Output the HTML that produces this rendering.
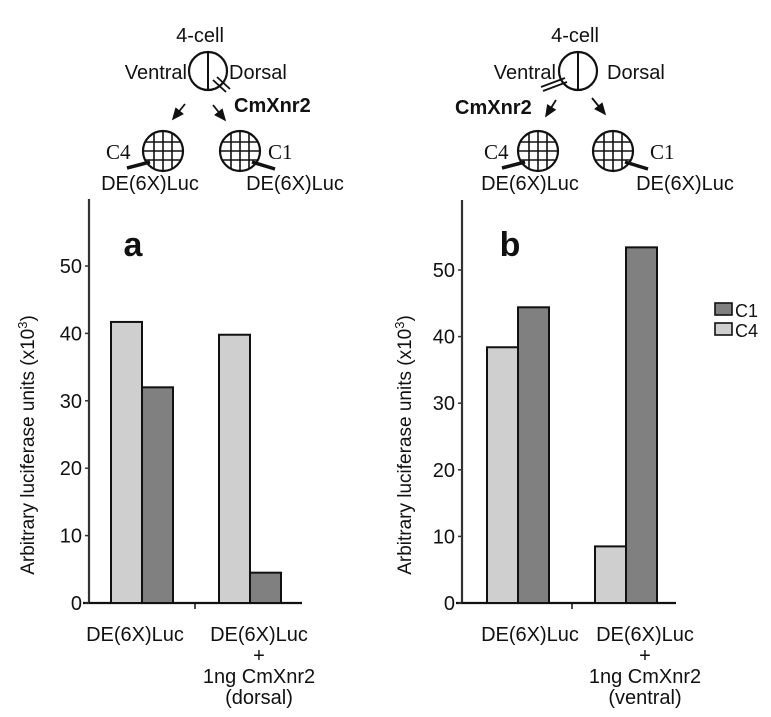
<!DOCTYPE html>
<html><head><meta charset="utf-8"><style>
body{margin:0;background:#fff;}
svg{display:block;font-family:"Liberation Sans",sans-serif;}
</style></head><body>
<svg id="fig" width="771" height="717" viewBox="0 0 771 717">
<defs>
<marker id="ah" markerWidth="8" markerHeight="8" refX="6" refY="4" orient="auto"><path d="M0,1 L7,4 L0,7 Z" fill="#111"/></marker>
<g id="globe">
<circle r="20" fill="#fff" stroke="#111" stroke-width="2.2"/>
<line x1="-20" y1="0" x2="20" y2="0" stroke="#111" stroke-width="1.6"/>
<line x1="-18" y1="-9" x2="18" y2="-9" stroke="#111" stroke-width="1.6"/>
<line x1="-18" y1="9" x2="18" y2="9" stroke="#111" stroke-width="1.6"/>
<line x1="0" y1="-20" x2="0" y2="20" stroke="#111" stroke-width="1.6"/>
<line x1="-9" y1="-18" x2="-9" y2="18" stroke="#111" stroke-width="1.6"/>
<line x1="9" y1="-18" x2="9" y2="18" stroke="#111" stroke-width="1.6"/>
</g>
</defs>

<!-- left diagram -->
<g font-size="20" fill="#111">
<text x="200" y="42" text-anchor="middle">4-cell</text>
<circle cx="208" cy="71" r="19" fill="#fff" stroke="#111" stroke-width="2.2"/>
<line x1="208" y1="52" x2="208" y2="90" stroke="#111" stroke-width="2"/>
<text x="187" y="79" text-anchor="end">Ventral</text>
<text x="229" y="79">Dorsal</text>
<line x1="213" y1="80" x2="226" y2="92" stroke="#111" stroke-width="1.8"/>
<line x1="217" y1="77" x2="230" y2="89" stroke="#111" stroke-width="1.8"/>
<text x="234" y="112" font-weight="bold">CmXnr2</text>
<line x1="185" y1="104" x2="173" y2="119" stroke="#111" stroke-width="1.8" marker-end="url(#ah)"/>
<line x1="213" y1="105" x2="225" y2="120" stroke="#111" stroke-width="1.8" marker-end="url(#ah)"/>
<use href="#globe" x="163" y="151"/>
<use href="#globe" x="240" y="151"/>
<line x1="150" y1="162" x2="127" y2="168" stroke="#111" stroke-width="3.5"/>
<line x1="252" y1="162" x2="275" y2="169" stroke="#111" stroke-width="3.5"/>
<text x="106" y="159" font-family="Liberation Serif,serif" font-size="21">C4</text>
<text x="268" y="159" font-family="Liberation Serif,serif" font-size="21">C1</text>
<text x="150" y="190" text-anchor="middle">DE(6X)Luc</text>
<text x="295" y="190" text-anchor="middle">DE(6X)Luc</text>
</g>

<!-- right diagram -->
<g font-size="20" fill="#111">
<text x="575" y="42" text-anchor="middle">4-cell</text>
<circle cx="578" cy="71" r="19" fill="#fff" stroke="#111" stroke-width="2.2"/>
<line x1="578" y1="52" x2="578" y2="90" stroke="#111" stroke-width="2"/>
<text x="556" y="79" text-anchor="end">Ventral</text>
<text x="607" y="79">Dorsal</text>
<line x1="565" y1="78" x2="541" y2="87" stroke="#111" stroke-width="1.8"/>
<line x1="567" y1="82" x2="543" y2="91" stroke="#111" stroke-width="1.8"/>
<text x="455" y="114" font-weight="bold">CmXnr2</text>
<line x1="556" y1="100" x2="546" y2="116" stroke="#111" stroke-width="1.8" marker-end="url(#ah)"/>
<line x1="592" y1="98" x2="605" y2="114" stroke="#111" stroke-width="1.8" marker-end="url(#ah)"/>
<use href="#globe" x="538" y="151"/>
<use href="#globe" x="613" y="151"/>
<line x1="525" y1="162" x2="502" y2="168" stroke="#111" stroke-width="3.5"/>
<line x1="625" y1="162" x2="648" y2="169" stroke="#111" stroke-width="3.5"/>
<text x="484" y="159" font-family="Liberation Serif,serif" font-size="21">C4</text>
<text x="650" y="159" font-family="Liberation Serif,serif" font-size="21">C1</text>
<text x="530" y="190" text-anchor="middle">DE(6X)Luc</text>
<text x="685" y="190" text-anchor="middle">DE(6X)Luc</text>
</g>

<!-- legend -->
<g font-size="18" fill="#111">
<rect x="715" y="303" width="17" height="12" fill="#808080" stroke="#111" stroke-width="1.6"/>
<text x="735" y="317">C1</text>
<rect x="715" y="323" width="17" height="12" fill="#cfcfcf" stroke="#111" stroke-width="1.6"/>
<text x="735" y="337">C4</text>
</g>
<g id="charts"></g>
</svg>
<script>
const ticks = [0,10,20,30,40,50];
const tickLabels = ["0","10","20","30","40","50"];
const seriesNames = ["C4","C1"];
const aC4 = [41.7, 39.8];
const aC1 = [32.0, 4.5];
const bC4 = [38.4, 8.5];
const bC1 = [44.4, 53.4];
const aCats = [["DE(6X)Luc"],["DE(6X)Luc","+","1ng CmXnr2","(dorsal)"]];
const bCats = [["DE(6X)Luc"],["DE(6X)Luc","+","1ng CmXnr2","(ventral)"]];

const NS="http://www.w3.org/2000/svg";
const root=document.getElementById('charts');
function mk(tag,attrs,parent){const e=document.createElementNS(NS,tag);for(const k in attrs)e.setAttribute(k,attrs[k]);parent.appendChild(e);return e;}

function drawChart(cfg){
  const g=mk('g',{},root);
  
  
  const y=v=>cfg.y0-(v/10)*cfg.unit;
  mk('line',{x1:cfg.ax,y1:cfg.top,x2:cfg.ax,y2:cfg.y0+1,stroke:'#333','stroke-width':2.2},g);
  const xa=mk('line',{x1:cfg.ax-6,y1:cfg.y0,x2:cfg.xend,y2:cfg.y0,stroke:'#111','stroke-width':2.2},g);
  
  
  mk('line',{x1:cfg.mid,y1:cfg.y0,x2:cfg.mid,y2:cfg.y0+6,stroke:'#111','stroke-width':1.5},g);
  ticks.forEach((t,i)=>{
    mk('line',{x1:cfg.ax-4,y1:y(t),x2:cfg.ax,y2:y(t),stroke:'#333','stroke-width':1.5},g);
    const tx=mk('text',{x:cfg.ax-7,y:y(t)+7,'text-anchor':'end','font-size':20,fill:'#111'},g);
    tx.textContent=tickLabels[i];
    
    
  });
  const yt=mk('text',{x:0,y:0,'text-anchor':'middle','font-size':19,fill:'#111',transform:`translate(${cfg.tx},${cfg.tcy}) rotate(-90)`},g);
  yt.innerHTML='Arbitrary luciferase units (x10<tspan dy="-7" font-size="13">3</tspan><tspan dy="7">)</tspan>';
  
  
  const pl=mk('text',{x:cfg.letterX,y:256,'text-anchor':'middle','font-size':34,'font-weight':'bold',fill:'#111'},g);
  pl.textContent=cfg.id;
  
  
  const series=[[cfg.c4,'#cfcfcf'],[cfg.c1,'#808080']];
  cfg.groups.forEach((gx,gi)=>{
    series.forEach((s,si)=>{
      const v=s[0][gi];
      const r=mk('rect',{x:gx+si*cfg.bw,y:y(v),width:cfg.bw,height:cfg.y0-y(v),fill:s[1],stroke:'#111','stroke-width':2},g);
      
      
    });
    cfg.cats[gi].forEach((line,li)=>{
      const t=mk('text',{x:cfg.catX[gi],y:641+li*21,'text-anchor':'middle','font-size':20,fill:'#111'},g);
      t.textContent=line;
      
      
    });
  });
}
drawChart({id:'a',ax:89,top:199,y0:603,unit:67.4,xend:302,mid:195,tx:34,tcy:445,letterX:133,
  groups:[111,219],bw:31,c4:aC4,c1:aC1,cats:aCats,catX:[135,259]});
drawChart({id:'b',ax:462,top:200,y0:603,unit:66.6,xend:676,mid:572,tx:411,tcy:445,letterX:510,
  groups:[487,595],bw:31,c4:bC4,c1:bC1,cats:bCats,catX:[530,645]});
</script>
</body></html>
